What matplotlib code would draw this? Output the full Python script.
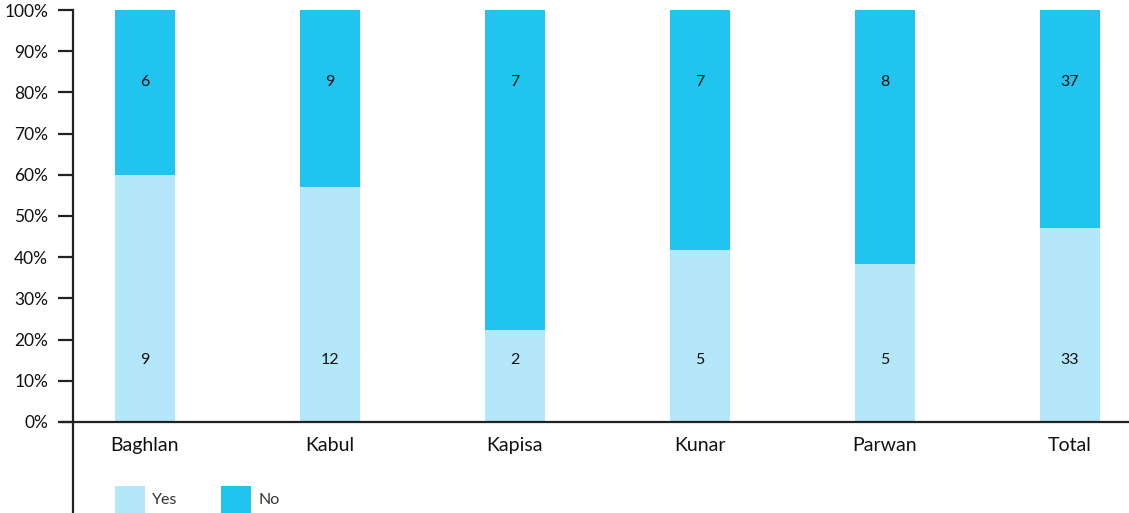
import matplotlib
matplotlib.use("Agg")
import matplotlib.pyplot as plt
from matplotlib.patches import Rectangle
from matplotlib.lines import Line2D
import numpy as np

categories = ["Baghlan", "Kabul", "Kapisa", "Kunar", "Parwan", "Total"]
yes_counts = [9, 12, 2, 5, 5, 33]
no_counts = [6, 9, 7, 7, 8, 37]
series_names = ["Yes", "No"]
colors = ["#B4E7F9", "#20C4EE"]
yticks = [0, 0.1, 0.2, 0.3, 0.4, 0.5, 0.6, 0.7, 0.8, 0.9, 1.0]
ytick_labels = ["0%", "10%", "20%", "30%", "40%", "50%", "60%", "70%", "80%", "90%", "100%"]

plt.rcParams['font.family'] = ['Lato', 'DejaVu Sans']

W, H = 1129, 513
fig = plt.figure(figsize=(W / 100, H / 100), dpi=100)
left_px, right_px, top_px, bot_px = 73, 1129, 10, 422
ax = fig.add_axes([left_px / W, (H - bot_px) / H, (right_px - left_px) / W, (bot_px - top_px) / H])

yes = np.array(yes_counts, float)
no = np.array(no_counts, float)
tot = yes + no
yes_p = yes / tot
no_p = no / tot
x = np.arange(len(categories))
bw = 60 / 185
ax.bar(x, yes_p, width=bw, color=colors[0], label=series_names[0], zorder=2)
ax.bar(x, no_p, bottom=yes_p, width=bw, color=colors[1], label=series_names[1], zorder=2)

for xi, yv, nv in zip(x, yes_counts, no_counts):
    ax.text(xi, 0.15, str(yv), ha="center", va="center", fontsize=11.5, color="#111111", zorder=3)
    ax.text(xi, 0.826, str(nv), ha="center", va="center", fontsize=11.5, color="#111111", zorder=3)

ax.set_xlim((left_px - 145) / 185, (right_px - 145) / 185)
ax.set_ylim(0, 1)
ax.set_yticks(yticks)
ax.set_yticklabels(ytick_labels, fontsize=12.5, color="#111111")
ax.set_xticks(x)
ax.set_xticklabels(categories, fontsize=14, color="#111111")
ax.tick_params(axis="x", length=0, pad=11)
ax.tick_params(axis="y", length=11, width=1.6, color="#222222", pad=7)
for s in ax.spines.values():
    s.set_visible(False)

# axis lines
ax.add_line(Line2D([0, 0], [-(H - bot_px) / (bot_px - top_px), 1], transform=ax.transAxes,
                   color="#222222", lw=1.6, clip_on=False, zorder=4))
ax.add_line(Line2D([-11 / (right_px - left_px), 1], [0, 0], transform=ax.transAxes,
                   color="#222222", lw=1.6, clip_on=False, zorder=4))

# legend
leg_x = [115, 221]
for i, name in enumerate(series_names):
    fig.patches.append(Rectangle((leg_x[i] / W, 0), 30 / W, 27 / H, transform=fig.transFigure,
                                 facecolor=colors[i], edgecolor="none"))
    fig.text((leg_x[i] + 37) / W, (H - 500) / H, name, fontsize=11.5, color="#333333", va="center", ha="left")

fig.savefig("out.png", dpi=100)
